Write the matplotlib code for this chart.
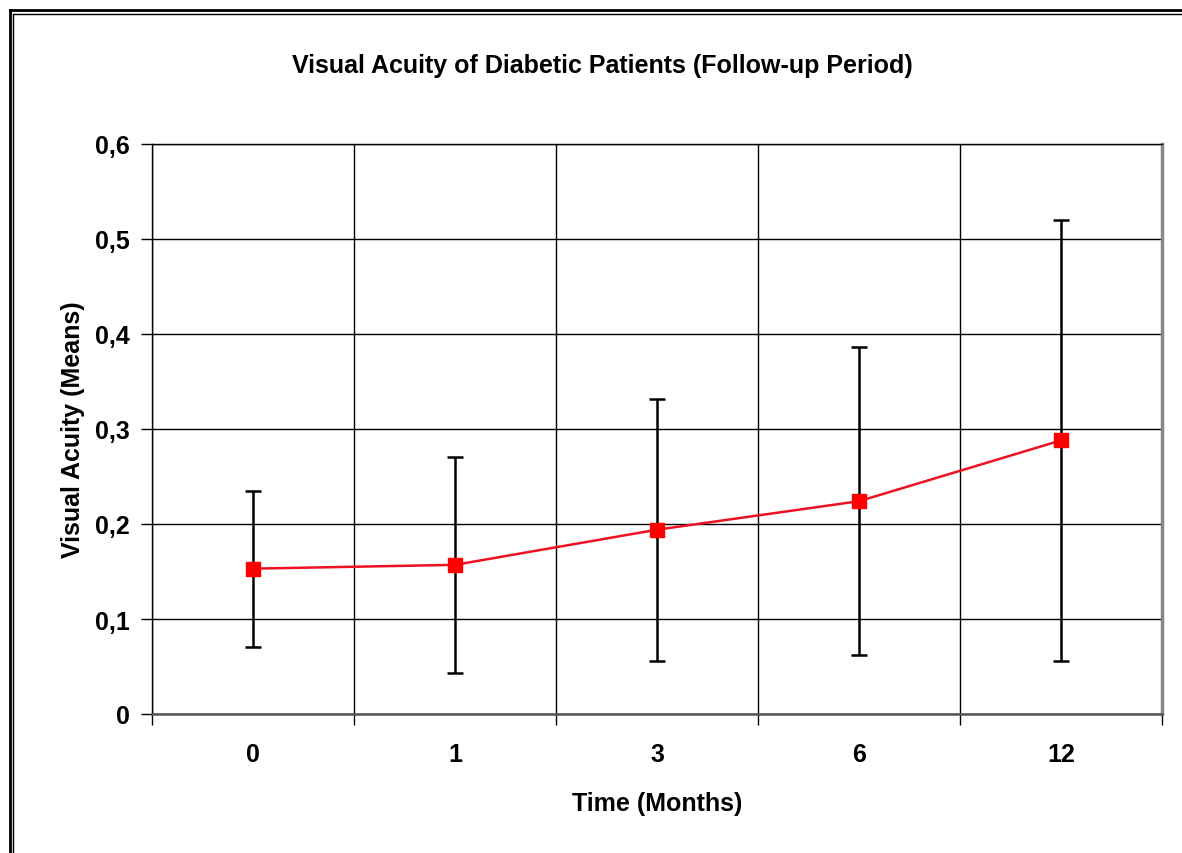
import matplotlib
matplotlib.use("Agg")
import matplotlib.pyplot as plt
from matplotlib.lines import Line2D

categories = ["0", "1", "3", "6", "12"]
means = [0.153, 0.157, 0.194, 0.224, 0.288]
sd = [0.082, 0.114, 0.138, 0.162, 0.232]
yticks = [0, 0.1, 0.2, 0.3, 0.4, 0.5, 0.6]
ytick_labels = ["0", "0,1", "0,2", "0,3", "0,4", "0,5", "0,6"]

plt.rcParams['font.family'] = ['Liberation Sans', 'DejaVu Sans']

W, H = 1182, 854
fig = plt.figure(figsize=(W / 100, H / 100), dpi=100)
ax = fig.add_axes([152 / W, 1 - 715 / H, (1162 - 152) / W, (715 - 145) / H])

x = list(range(len(categories)))
ax.errorbar(x, means, yerr=sd, fmt='none', ecolor='black', elinewidth=1.8,
            capsize=6, capthick=1.8, zorder=3)
ax.plot(x, means, color='#ee1122', lw=1.8, marker='s', markersize=10,
        markerfacecolor='red', markeredgecolor='red', zorder=4)

FS = 18

ax.set_xlim(-0.5, len(categories) - 0.5)
ax.set_ylim(0, 0.6)
ax.set_yticks(yticks)
ax.set_yticklabels(ytick_labels, fontsize=FS, fontweight='bold')
ax.set_xticks([i - 0.5 for i in range(len(categories) + 1)])
ax.set_xticklabels([])
ax.set_xticks(x, minor=True)
ax.set_xticklabels(categories, minor=True, fontsize=FS, fontweight='bold')
ax.tick_params(axis='x', which='minor', length=0, pad=20)
ax.tick_params(axis='x', which='major', length=8, width=1, direction='out')
ax.tick_params(axis='y', length=8, width=1, direction='out', pad=8)

ax.grid(True, which='major', color='black', lw=1)
ax.set_axisbelow(True)

for s in ['left', 'top']:
    ax.spines[s].set_color('black')
    ax.spines[s].set_linewidth(1)
ax.spines['right'].set_color('#888888')
ax.spines['right'].set_linewidth(2.5)
ax.spines['bottom'].set_color('#555555')
ax.spines['bottom'].set_linewidth(1.8)

ax.set_xlabel("Time (Months)", fontsize=FS, fontweight='bold', labelpad=18)
ax.set_ylabel("Visual Acuity (Means)", fontsize=FS, fontweight='bold', labelpad=7)
fig.text(602 / W, 1 - 66 / H, "Visual Acuity of Diabetic Patients (Follow-up Period)",
         ha='center', va='center', fontsize=FS, fontweight='bold')

# outer double frame
def px_line(x0, y0, x1, y1, lw):
    fig.add_artist(Line2D([x0 / W, x1 / W], [1 - y0 / H, 1 - y1 / H],
                          transform=fig.transFigure, color='black', lw=lw))

px_line(10, 11, 10, H, 2.0)
px_line(13, 15, 13, H, 1.0)
px_line(10, 11, W, 11, 2.0)
px_line(13, 15, W, 15, 1.0)

fig.savefig("out.png", dpi=100)
